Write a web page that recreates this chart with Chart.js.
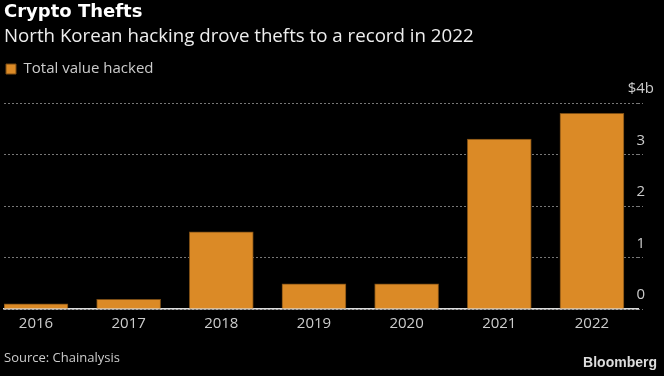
<!DOCTYPE html>
<html>
<head>
<meta charset="utf-8">
<script src="https://cdn.jsdelivr.net/npm/chart.js@4/dist/chart.umd.min.js"></script>
<style>
  html, body { margin: 0; padding: 0; background: #000; }
  #wrap { width: 664px; height: 376px; position: relative; }
</style>
</head>
<body>
<div id="wrap"><canvas id="c" width="664" height="376"></canvas></div>
<script>
const titleText = 'Crypto Thefts';
const subtitleText = 'North Korean hacking drove thefts to a record in 2022';
const seriesName = 'Total value hacked';
const years = ['2016', '2017', '2018', '2019', '2020', '2021', '2022'];
const valuesHacked = [0.1, 0.19, 1.5, 0.49, 0.49, 3.3, 3.8];
const yTicks = [0, 1, 2, 3, 4];
const yTickLabels = ['0', '1', '2', '3', '$4b'];
const sourceText = 'Source: Chainalysis';
const brandText = 'Bloomberg';

const BAR = '#DB8A26';

const bgPlugin = {
  id: 'bg',
  beforeDraw(chart) {
    const ctx = chart.ctx;
    ctx.save();
    ctx.fillStyle = '#000';
    ctx.fillRect(0, 0, chart.width, chart.height);
    ctx.restore();
  }
};

const legendGap = {
  id: 'legendGap',
  beforeInit(chart) {
    const orig = chart.legend.fit;
    chart.legend.fit = function () {
      orig.bind(chart.legend)();
      this.height += 16.5;
    };
  }
};

const footer = {
  id: 'footer',
  afterDraw(chart) {
    const ctx = chart.ctx;
    ctx.save();
    ctx.textBaseline = 'alphabetic';
    ctx.fillStyle = '#cccccc';
    ctx.font = '13px "Open Sans"';
    ctx.textAlign = 'left';
    ctx.fillText(sourceText, 4, 362);
    ctx.fillStyle = '#dddddd';
    ctx.font = 'bold 14px "Liberation Sans"';
    ctx.textAlign = 'right';
    ctx.fillText(brandText, 657, 367);
    ctx.restore();
  }
};

new Chart(document.getElementById('c'), {
  type: 'bar',
  data: {
    datasets: [{
      label: seriesName,
      data: valuesHacked.map((v, i) => ({ x: i, y: v })),
      backgroundColor: BAR,
      borderColor: '#7a4c14',
      borderWidth: 1,
      borderSkipped: 'bottom',
      barThickness: 64
    }]
  },
  options: {
    responsive: false,
    animation: false,
    devicePixelRatio: 1,
    layout: { padding: { left: 4, right: -11, top: 0, bottom: 37 } },
    plugins: {
      title: {
        display: true, text: titleText, align: 'start', color: '#ffffff',
        font: { family: 'DejaVu Sans', size: 18, weight: 'bold', lineHeight: 1.2 },
        padding: { top: 2, bottom: 0 }
      },
      subtitle: {
        display: true, text: subtitleText, align: 'start', color: '#eeeeee',
        font: { family: 'Open Sans', size: 18.7, lineHeight: 1.2 },
        padding: { top: 2, bottom: 11.5 }
      },
      legend: {
        display: true, align: 'start',
        labels: {
          color: '#cccccc', boxWidth: 10, boxHeight: 10, padding: 2,
          font: { family: 'Open Sans', size: 15, lineHeight: 1.2 }
        }
      },
      tooltip: { enabled: false }
    },
    scales: {
      x: {
        type: 'linear',
        position: 'bottom',
        offset: false,
        min: -0.345,
        max: 6.497,
        afterBuildTicks(axis) { axis.ticks = years.map((_, i) => ({ value: i })); },
        grid: { display: false, drawTicks: false, offset: false },
        border: { display: true, color: '#dddddd', width: 1.5 },
        ticks: {
          color: '#cccccc', padding: 6, maxRotation: 0, autoSkip: false,
          font: { family: 'Open Sans', size: 15, lineHeight: 1.2 },
          callback: (v) => years[v]
        }
      },
      y: {
        position: 'right',
        min: 0,
        max: 4,
        afterBuildTicks(axis) { axis.ticks = yTicks.map(v => ({ value: v })); },
        grid: {
          color: '#777777', lineWidth: 1, drawTicks: true, tickLength: 5,
          tickColor: '#777777', tickBorderDash: [2, 2]
        },
        border: { display: false, dash: [2, 2] },
        ticks: {
          color: '#cccccc', padding: 16, mirror: true, crossAlign: 'center', labelOffset: -14,
          font: { family: 'Open Sans', size: 15, lineHeight: 1.2 },
          callback: (v) => yTickLabels[yTicks.indexOf(v)]
        }
      }
    }
  },
  plugins: [bgPlugin, legendGap, footer]
});
</script>
</body>
</html>
